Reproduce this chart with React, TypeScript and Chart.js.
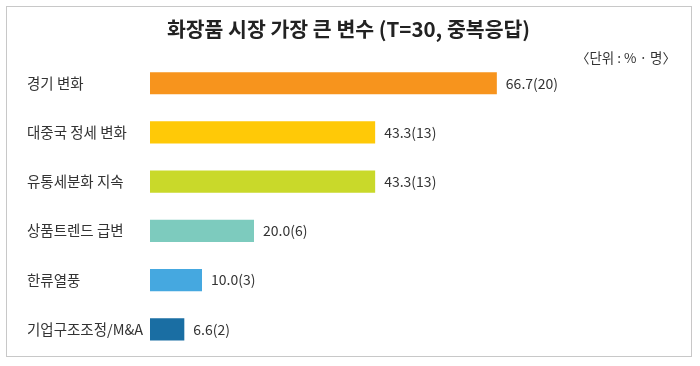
import React, { useEffect, useRef } from "react";
import { Chart, registerables } from "chart.js";

Chart.register(...registerables);

const categories = ["경기 변화", "대중국 정세 변화", "유통세분화 지속", "상품트렌드 급변", "한류열풍", "기업구조조정/M&A"];
const percentValues = [66.7, 43.3, 43.3, 20.0, 10.0, 6.6];
const countValues = [20, 13, 13, 6, 3, 2];
const barColors = ["#F7941D", "#FFC907", "#C9D92A", "#7DCBBE", "#45A8E0", "#1A6EA3"];
const titleText = "화장품 시장 가장 큰 변수 (T=30, 중복응답)";
const unitText = "〈단위 : % · 명〉";

const FONT = "'Noto Sans CJK KR', 'Noto Sans', sans-serif";

export default function App() {
  const ref = useRef<HTMLCanvasElement | null>(null);

  useEffect(() => {
    if (!ref.current) return;
    const decor = {
      id: "decor",
      beforeDraw(chart: any) {
        const ctx = chart.ctx;
        ctx.save();
        ctx.strokeStyle = "#c8c8c8";
        ctx.lineWidth = 1;
        ctx.strokeRect(6.5, 6.5, 685, 350);
        ctx.restore();
      },
      afterDatasetsDraw(chart: any) {
        const ctx = chart.ctx;
        ctx.save();
        ctx.fillStyle = "#333333";
        ctx.font = `400 14px ${FONT}`;
        ctx.textBaseline = "middle";
        ctx.textAlign = "left";
        const meta = chart.getDatasetMeta(0);
        meta.data.forEach((bar: any, i: number) => {
          const label = `${percentValues[i].toFixed(1)}(${countValues[i]})`;
          ctx.fillText(label, bar.x + 9, bar.y);
        });
        ctx.textAlign = "right";
        ctx.font = `400 13.5px ${FONT}`;
        ctx.fillText(unitText, 676, 58);
        ctx.restore();
      },
    };

    const chart = new Chart(ref.current, {
      type: "bar",
      data: {
        labels: categories,
        datasets: [
          {
            data: percentValues,
            backgroundColor: barColors,
            borderWidth: 0,
            barPercentage: 0.45,
            categoryPercentage: 1,
          },
        ],
      },
      options: {
        indexAxis: "y",
        animation: false,
        responsive: false,
        maintainAspectRatio: false,
        layout: { padding: { left: 27, right: 30, top: 0, bottom: 12 } },
        plugins: {
          legend: { display: false },
          tooltip: { enabled: false },
          title: {
            display: true,
            text: titleText,
            color: "#222222",
            font: { family: FONT, size: 20.5, weight: "bold" },
            padding: { top: 17, bottom: 17 },
          },
        },
        scales: {
          x: {
            display: false,
            min: 0,
            max: 100,
          },
          y: {
            grid: { display: false },
            border: { display: false },
            ticks: {
              color: "#333333",
              font: { family: FONT, size: 14.5 },
              crossAlign: "far",
              padding: 0,
            },
            afterFit(scale: any) {
              scale.width = 123;
            },
          },
        },
      },
      plugins: [decor],
    } as any);
    return () => chart.destroy();
  }, []);

  return (
    <div style={{ position: "fixed", left: 0, top: 0, width: 700, height: 366, background: "#fff" }}>
      <canvas ref={ref} width={700} height={366} style={{ width: 700, height: 366 }} />
    </div>
  );
}
